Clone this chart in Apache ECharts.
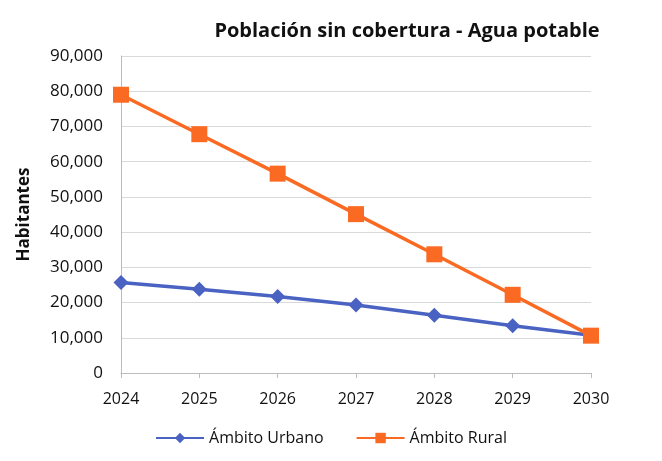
<!DOCTYPE html>
<html>
<head>
<meta charset="utf-8">
<script src="https://cdn.jsdelivr.net/npm/echarts@6/dist/echarts.min.js"></script>
<style>
  html, body { margin: 0; padding: 0; background: #fff; }
  #chart { width: 662px; height: 461px; }
</style>
</head>
<body>
<div id="chart"></div>
<script>
const years = ["2024", "2025", "2026", "2027", "2028", "2029", "2030"];
const urbano = [25700, 23800, 21700, 19300, 16400, 13400, 10700];
const rural = [79000, 67800, 56600, 45100, 33700, 22200, 10600];

let chart = echarts.init(document.getElementById("chart"));
let option = {
  backgroundColor: "#fff",
  textStyle: { fontFamily: "Open Sans" },
  title: {
    text: "Población sin cobertura - Agua potable",
    left: 402,
    top: 16,
    textAlign: "center",
    textStyle: { fontSize: 20, fontWeight: "bold", color: "#111", fontFamily: "Open Sans" }
  },
  legend: {
    bottom: 10,
    left: "center",
    itemWidth: 48,
    itemHeight: 13,
    itemGap: 32,
    textStyle: { fontSize: 16, color: "#111" },
    data: ["Ámbito Urbano", "Ámbito Rural"]
  },
  grid: { left: 121, right: 71, top: 56, bottom: 88 },
  xAxis: {
    type: "category",
    boundaryGap: false,
    data: years,
    axisLine: { lineStyle: { color: "#bbb" } },
    axisTick: { show: true, alignWithLabel: true, length: 5, lineStyle: { color: "#bbb" } },
    axisLabel: { fontSize: 16, color: "#111", margin: 18 }
  },
  yAxis: {
    type: "value",
    min: 0,
    max: 90000,
    interval: 10000,
    name: "Habitantes",
    nameLocation: "middle",
    nameGap: 88,
    nameTextStyle: { fontSize: 17, fontWeight: "bold", color: "#111" },
    axisLine: { show: true, lineStyle: { color: "#bbb" } },
    axisLabel: {
      fontSize: 17,
      color: "#111",
      margin: 18,
      formatter: v => v.toLocaleString("en-US")
    },
    splitLine: { lineStyle: { color: "#d9d9d9" } }
  },
  series: [
    {
      name: "Ámbito Urbano",
      type: "line",
      data: urbano,
      symbol: "diamond",
      symbolSize: 15,
      color: "#4a62c2",
      lineStyle: { width: 3.5 },
      z: 2
    },
    {
      name: "Ámbito Rural",
      type: "line",
      data: rural,
      symbol: "rect",
      symbolSize: 16,
      color: "#fb6a22",
      lineStyle: { width: 3.5 },
      z: 3
    }
  ]
};
chart.setOption(option);
</script>
</body>
</html>
